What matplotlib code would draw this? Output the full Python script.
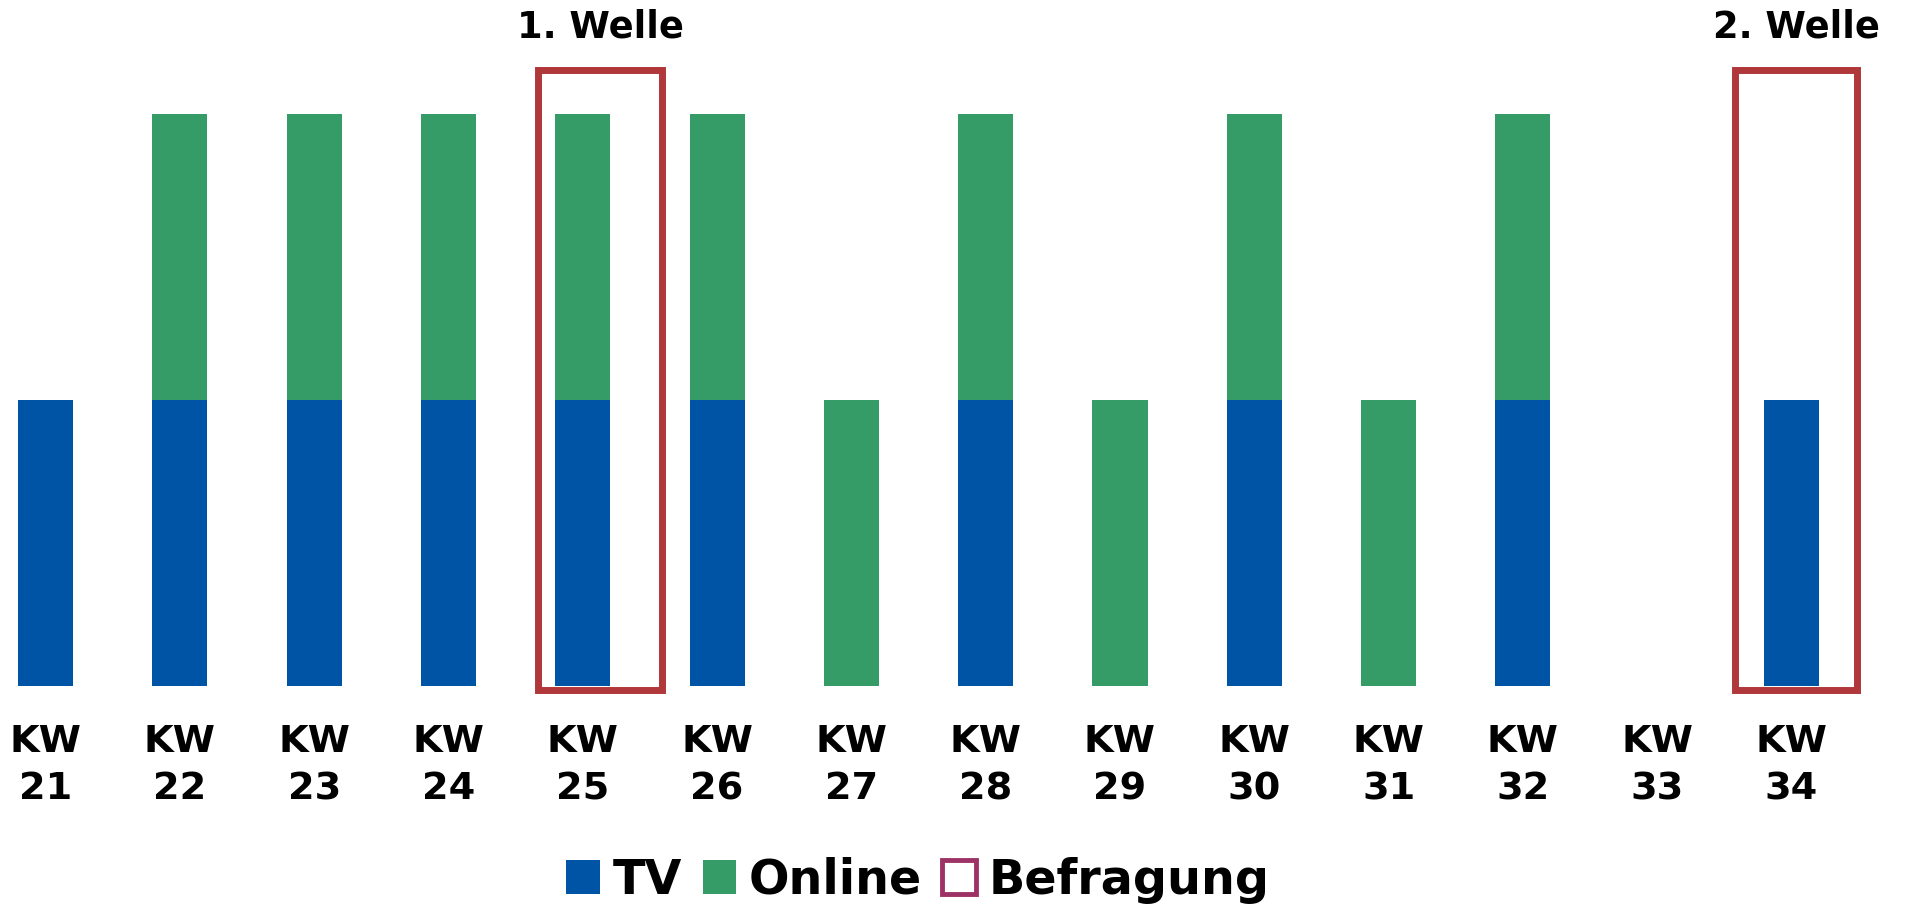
import matplotlib.pyplot as plt
from matplotlib.patches import Patch, Rectangle

# Daten
wochen = ['21', '22', '23', '24', '25', '26', '27', '28', '29', '30', '31', '32', '33', '34']
tv     = [1, 1, 1, 1, 1, 1, 0, 1, 0, 1, 0, 1, 0, 1]
online = [0, 1, 1, 1, 1, 1, 1, 1, 1, 1, 1, 1, 0, 0]

# Befragungswellen: (Index der Woche, Beschriftung, linker Rand, rechter Rand)
wellen = [(4, '1. Welle', -0.33, 0.59), (13, '2. Welle', -0.42, 0.49)]

C_TV     = '#0054A6'
C_ONLINE = '#359B67'
C_BOX    = '#B0373A'
C_LEG    = '#9C3266'

W, H = 1908, 907
fig = plt.figure(figsize=(W / 100, H / 100), dpi=100)

# Achse: Null-Linie bei y=686px, eine Einheit = 286px, KW21 bei x=45.6px, Abstand 134.3px
y0, unit = 686, 286
x0, step = 45.6, 134.3
ax = fig.add_axes([0, (H - y0) / H, 1, y0 / H])
ax.set_xlim(-x0 / step, (W - x0) / step)
ax.set_ylim(0, y0 / unit)

x = list(range(len(wochen)))
ax.bar(x, tv, width=0.41, color=C_TV)
ax.bar(x, online, width=0.41, bottom=tv, color=C_ONLINE)

for i, label, links, rechts in wellen:
    ax.add_patch(Rectangle((i + links, -0.014), rechts - links, 2.168,
                           fill=False, edgecolor=C_BOX, linewidth=5, clip_on=False))
    ax.text(i + (links + rechts) / 2, (y0 - 27) / unit, label, ha='center', va='center',
            fontsize=26.5, fontweight='bold', clip_on=False)

ax.set_xticks(x)
ax.set_xticklabels(['KW\n' + w for w in wochen], fontsize=27.5, fontweight='bold',
                   linespacing=1.42)
ax.tick_params(axis='x', length=0, pad=27)
ax.set_yticks([])
for s in ax.spines.values():
    s.set_visible(False)

handles = [Patch(facecolor=C_TV, edgecolor='none'),
           Patch(facecolor=C_ONLINE, edgecolor='none'),
           Patch(facecolor='white', edgecolor=C_LEG, linewidth=3.5)]
fig.legend(handles, ['TV', 'Online', 'Befragung'], loc='center',
           bbox_to_anchor=(918 / W, 1 - 880 / H), ncol=3, frameon=False,
           prop={'size': 34.3, 'weight': 'bold'}, handlelength=0.7, handleheight=0.7,
           handletextpad=0.27, columnspacing=0.43, borderaxespad=0)

fig.savefig('out.png', dpi=100)
